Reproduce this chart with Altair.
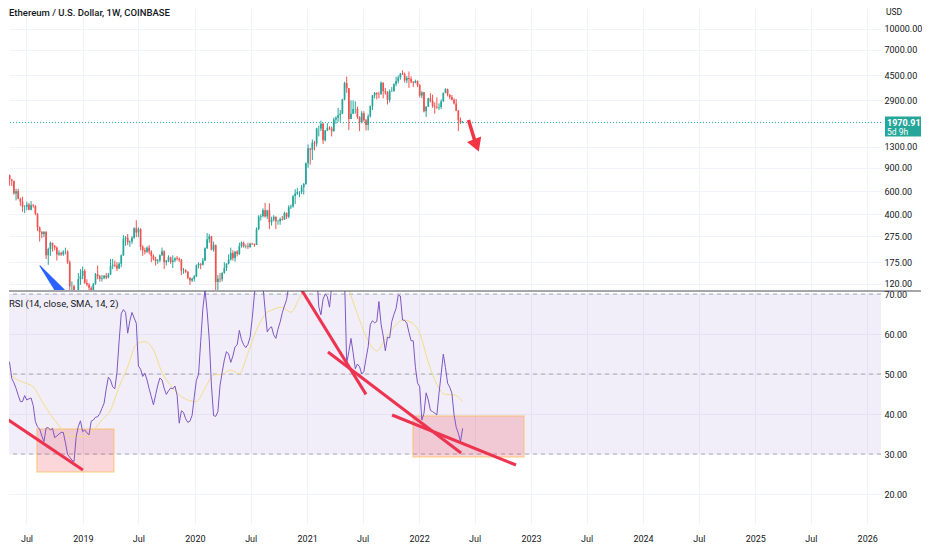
import altair as alt
import pandas as pd

TITLE = "Ethereum / U.S. Dollar, 1W, COINBASE"
RSI_TITLE = "RSI (14, close, SMA, 14, 2)"
CURRENCY = "USD"

# ---------------- weekly candles (week starting 2018-04-30) ----------------
first_week = "2018-04-30"
first_open = 670
closes = [790, 730, 715, 575, 600, 525, 500, 455, 455, 475, 435, 470, 465, 405, 320, 295, 285, 295, 197, 220,
          245, 232, 225, 200, 205, 200, 210, 210, 175, 115, 115, 88, 85, 130, 138, 150,
          122, 118, 112, 107, 120, 142, 137, 131, 133, 138, 134, 141, 164, 167, 165, 157, 170, 197, 262, 268,
          247, 250, 267, 315, 293, 310, 228, 215, 210, 225, 210, 195, 185, 178, 180, 197, 211, 175, 180, 190,
          175, 180, 187, 185, 182, 151, 152, 148, 133, 127, 131, 137,
          165, 170, 167, 180, 223, 260, 274, 217, 235, 124, 131, 130, 145, 158, 170, 183, 205, 188, 210, 202,
          231, 245, 230, 231, 228, 241, 239, 236, 310, 385, 390, 430, 387, 430, 350, 365, 385, 355, 355, 370,
          366, 410, 385, 454, 460, 550, 575, 590, 590, 640, 680, 975,
          1260, 1230, 1390, 1370, 1780, 1780, 1930, 1450, 1720, 1800, 1780, 1700, 2080, 2140, 2240, 2300, 2950, 3920, 3580, 2100,
          2300, 2500, 2500, 2170, 1980, 2320, 2050, 1890, 2200, 2630, 3160, 3300, 3230, 3220, 3930, 3400, 3330, 2920, 3400, 3400,
          3840, 4060, 4300, 4610, 4560, 4100, 4280, 4200, 4000, 3930, 4050, 3770,
          3150, 3330, 2400, 2600, 3000, 2880, 2620, 2600, 2560, 2580, 2850, 3300, 3520, 3200, 3070, 2930, 2740, 2420, 2050, 1960,
          1970.91]
highs = [835, 800, 745, 720, 625, 625, 535, 545, 470, 500, 490, 505, 480, 470, 410, 325, 300, 300, 300, 225,
         250, 245, 235, 230, 215, 210, 215, 225, 215, 180, 125, 118, 95, 145, 155, 162,
         155, 130, 122, 115, 122, 145, 165, 140, 140, 140, 145, 145, 185, 185, 180, 175, 175, 200, 280, 275,
         285, 255, 275, 320, 362, 320, 315, 235, 225, 230, 235, 215, 200, 192, 185, 200, 225, 215, 182, 197,
         192, 197, 190, 195, 190, 185, 158, 155, 150, 135, 134, 140,
         168, 175, 172, 188, 226, 290, 285, 276, 250, 238, 140, 145, 147, 175, 172, 200, 225, 215, 212, 215,
         245, 250, 250, 238, 245, 245, 245, 242, 320, 395, 402, 445, 490, 435, 485, 385, 395, 385, 365, 380,
         390, 420, 415, 470, 475, 560, 620, 635, 600, 670, 690, 985,
         1350, 1260, 1470, 1430, 1800, 1870, 2040, 1960, 1730, 1950, 1850, 1840, 2150, 2200, 2550, 2450, 2980, 4000, 4380, 3590,
         2900, 2900, 2850, 2600, 2200, 2400, 2400, 2100, 2280, 2650, 3180, 3350, 3330, 3370, 4030, 3970, 3600, 3400, 3500, 3650,
         3900, 4370, 4460, 4670, 4870, 4700, 4420, 4780, 4400, 4050, 4150, 4100,
         3850, 3400, 3350, 2620, 3030, 3280, 3200, 2800, 3050, 2750, 2950, 3320, 3580, 3560, 3220, 3180, 3000, 2960, 2460, 2150,
         2030]
lows = [665, 660, 655, 565, 510, 520, 465, 420, 410, 430, 430, 430, 450, 395, 300, 250, 265, 270, 185, 167,
        195, 210, 215, 180, 195, 195, 195, 200, 170, 100, 100, 83, 82, 84, 118, 130,
        120, 115, 107, 102, 102, 118, 130, 125, 125, 130, 130, 132, 140, 155, 160, 150, 155, 160, 195, 232,
        235, 228, 240, 262, 270, 270, 215, 195, 200, 205, 200, 175, 180, 165, 170, 175, 195, 155, 165, 175,
        170, 158, 175, 180, 175, 140, 143, 145, 130, 118, 124, 125,
        135, 157, 155, 165, 178, 220, 245, 215, 210, 90, 108, 123, 125, 143, 150, 168, 180, 180, 176, 193,
        198, 225, 225, 222, 220, 224, 236, 228, 236, 305, 360, 380, 380, 370, 310, 330, 355, 310, 335, 335,
        360, 365, 370, 375, 440, 450, 480, 560, 540, 570, 565, 670,
        900, 950, 1030, 1220, 1300, 1550, 1700, 1360, 1420, 1700, 1730, 1550, 1680, 1930, 2000, 2000, 2280, 2900, 3300, 1730,
        2100, 2300, 2300, 2100, 1700, 1950, 2000, 1720, 1720, 2150, 2450, 3000, 2950, 3000, 3200, 3000, 3200, 2700, 2800, 3350,
        3380, 3700, 3890, 4150, 4500, 3950, 3900, 3600, 3900, 3650, 3900, 3650,
        3050, 3000, 2350, 2170, 2580, 2800, 2550, 2300, 2500, 2450, 2500, 2830, 3280, 3100, 2950, 2900, 2700, 2400, 1700, 1930,
        1950]

# ---------------- RSI (weekly) and its SMA (read every 4 weeks) ----------------
rsi_values = [53.7, 52.8, 48.9, 47.8, 46.4, 44.7, 43.1, 43.1, 44.6, 43.5,
              43.8, 44.0, 42.1, 38.1, 36.8, 36.2, 34.5, 33.1, 36.5, 36.6,
              36.0, 36.4, 34.1, 34.5, 35.0, 35.4, 35.4, 32.8, 29.9, 29.2,
              28.5, 28.1, 34.3, 36.9, 38.3, 35.6, 36.0, 35.3, 34.8, 38.2,
              38.5, 39.2, 39.3, 40.1, 41.4, 42.7, 46.3, 49.2, 48.5, 46.8,
              46.3, 50.4, 58.2, 65.1, 66.1, 65.4, 60.2, 63.3, 65.4, 64.0,
              62.7, 52.0, 51.2, 49.4, 50.2, 48.5, 46.3, 44.3, 42.3, 44.8,
              47.2, 49.0, 48.5, 46.4, 44.9, 45.8, 46.5, 46.3, 47.0, 44.7,
              37.7, 40.8, 40.4, 38.8, 37.9, 38.2, 39.7, 44.3, 48.4, 49.9,
              58.1, 66.3, 71.0, 65.7, 58.5, 47.2, 39.6, 39.4, 40.6, 47.1,
              50.4, 53.5, 55.6, 55.0, 52.9, 54.5, 56.8, 57.3, 60.9, 58.6,
              57.3, 56.6, 57.4, 59.2, 63.9, 69.8, 74.0, 78.0, 76.0, 72.0,
              66.0, 60.5, 61.4, 61.8, 59.8, 58.9, 61.2, 63.0, 65.3, 67.0,
              68.6, 72.0, 75.0, 78.0, 82.0, 85.0, 88.0, 86.0, 84.0, 80.0,
              83.0, 86.0, 84.0, 80.0, 76.0, 66.8, 64.8, 68.7, 70.0, 69.3,
              66.7, 72.0, 76.0, 80.0, 83.0, 81.0, 78.0, 74.0, 52.7, 55.6,
              58.9, 55.3, 51.3, 52.5, 51.8, 50.0, 50.6, 53.9, 56.8, 62.4,
              63.3, 62.8, 63.1, 68.1, 62.5, 59.5, 55.8, 59.2, 59.0, 63.1,
              64.9, 66.4, 69.7, 69.5, 63.5, 63.4, 62.7, 60.4, 58.3, 58.3,
              51.7, 47.7, 46.8, 38.5, 40.2, 45.3, 43.5, 40.9, 40.6, 40.2,
              39.8, 45.2, 50.0, 55.0, 51.6, 47.7, 46.7, 45.2, 39.8, 36.7,
              35.2, 33.1, 36.4]
sma_step = "28D"
rsi_sma_values = [50.5, 48.7, 47.8, 46.8, 43.2, 39.9, 37.1, 34.8, 34.3, 34.3,
                  36.0, 38.5, 41.0, 46.8, 51.8, 57.4, 58.1, 56.0, 50.4, 47.2,
                  44.8, 43.5, 43.1, 46.4, 49.8, 49.9, 51.0, 50.0, 55.2, 61.0,
                  64.9, 66.2, 66.7, 65.4, 68.9, 72.0, 76.0, 78.0, 79.0, 76.0,
                  69.6, 63.5, 58.3, 55.8, 58.8, 61.7, 63.5, 62.9, 60.2, 53.0,
                  47.4, 44.9, 44.8, 43.1]

current_price = 1970.91
countdown = "5d 9h"

price_ticks = [120, 175, 275, 400, 600, 900, 1300, 2900, 4500, 7000, 10000]
rsi_ticks = [20, 30, 40, 50, 60, 70]
rsi_levels = [70, 50, 30]
band_low, band_high = 30, 70

# ---------------- drawings ----------------
trend_ids = ["a", "a", "b", "b", "c", "c", "d", "d"]
trend_dates = ["2018-04-09", "2019-01-01", "2020-12-12", "2021-07-12",
               "2021-03-10", "2022-05-18", "2021-10-05", "2022-11-13"]
trend_vals = [39.75, 26.0, 71.25, 44.9, 55.5, 30.25, 39.75, 27.25]

box_starts = ["2018-08-04", "2021-12-12"]
box_ends = ["2019-04-12", "2022-12-09"]
box_tops = [36.25, 39.5]
box_bottoms = [25.5, 29.25]

blue_dates = ["2018-08-14", "2018-10-21"]
blue_prices = [164, 104]
blue_widths = [1, 9]

arrow_dates = ["2022-06-11", "2022-07-02"]
arrow_prices = [2062, 1432]
arrow_head_date = "2022-07-07"
arrow_head_price = 1325

# ---------------- tables ----------------
weeks = pd.date_range(first_week, periods=len(closes), freq="7D")
opens = [first_open] + closes[:-1]
candles = pd.DataFrame({"date": weeks, "open": opens, "close": closes, "high": highs, "low": lows})
candles["dir"] = ["up" if c >= o else "down" for o, c in zip(opens, closes)]

rsi_df = pd.DataFrame({"date": weeks[:len(rsi_values)], "rsi": rsi_values})
sma_df = pd.DataFrame({"date": pd.date_range(first_week, periods=len(rsi_sma_values), freq=sma_step),
                       "sma": rsi_sma_values})
trend_df = pd.DataFrame({"id": trend_ids, "date": pd.to_datetime(trend_dates), "val": trend_vals})
box_df = pd.DataFrame({"start": pd.to_datetime(box_starts), "end": pd.to_datetime(box_ends),
                       "top": box_tops, "bottom": box_bottoms})
blue_df = pd.DataFrame({"date": pd.to_datetime(blue_dates), "price": blue_prices, "w": blue_widths})
arrow_df = pd.DataFrame({"date": pd.to_datetime(arrow_dates), "price": arrow_prices})
head_df = pd.DataFrame({"date": pd.to_datetime([arrow_head_date]), "price": [arrow_head_price]})
cur_df = pd.DataFrame({"p": [current_price], "label": [f"{current_price:.2f}"], "cd": [countdown]})
level_df = pd.DataFrame({"level": rsi_levels})
band_df = pd.DataFrame({"lo": [band_low], "hi": [band_high]})

# ---------------- styling ----------------
W, H_TOP, H_RSI = 872, 282, 233
TEAL, RED = "#26a69a", "#ef5350"
TEXT, GRID = "#131722", "#f0f3fa"
FONT = "Roboto"

x_scale = alt.Scale(domain=[alt.DateTime(year=2018, month=5, date=5),
                            alt.DateTime(year=2026, month=2, date=15)])
tick_values = []
for yr in range(2018, 2027):
    for mo in (1, 7):
        if (yr == 2018 and mo == 1) or (yr == 2026 and mo == 7):
            continue
        tick_values.append(alt.DateTime(year=yr, month=mo, date=1))

top_x_axis = alt.Axis(values=tick_values, labels=False, ticks=False, domain=False, grid=True, title=None)
bottom_x_axis = alt.Axis(values=tick_values, grid=True, title=None, labelPadding=10,
                         labelExpr="month(datum.value) == 0 ? timeFormat(datum.value, '%Y') : 'Jul'")

price_scale = alt.Scale(type="log", domain=[107.9, 14396], nice=False)
price_axis = alt.Axis(orient="right", values=price_ticks, format=".2f", title=None, labelPadding=3, grid=True)
rsi_scale = alt.Scale(domain=[12.5, 70.75], nice=False, zero=False)
rsi_axis = alt.Axis(orient="right", values=rsi_ticks, format=".2f", title=None, labelPadding=3, grid=True)


def tx(field="date"):
    return alt.X(f"{field}:T", scale=x_scale, axis=top_x_axis)


def bx(field="date"):
    return alt.X(f"{field}:T", scale=x_scale, axis=bottom_x_axis)


def py(field):
    return alt.Y(f"{field}:Q", scale=price_scale, axis=price_axis)


def ry(field):
    return alt.Y(f"{field}:Q", scale=rsi_scale, axis=rsi_axis)


color_enc = alt.Color("dir:N", scale=alt.Scale(domain=["up", "down"], range=[TEAL, RED]), legend=None)

# ---------------- price panel ----------------
wick = alt.Chart(candles).mark_rule(strokeWidth=1, clip=True).encode(
    x=tx(), y=py("low"), y2=alt.Y2("high"), color=color_enc)
body = alt.Chart(candles).mark_rule(strokeWidth=1.7, clip=True).encode(
    x=tx(), y=py("open"), y2=alt.Y2("close"), color=color_enc)
cur_line = alt.Chart(cur_df).mark_rule(color=TEAL, strokeDash=[1, 2], strokeWidth=1).encode(y=py("p"))
blue = alt.Chart(blue_df).mark_trail(color="#2962ff", clip=True).encode(
    x=tx(), y=py("price"), size=alt.Size("w:Q", scale=None, legend=None))
shaft = alt.Chart(arrow_df).mark_line(color="#f23645", strokeWidth=3.5, clip=True).encode(x=tx(), y=py("price"))
head = alt.Chart(head_df).mark_point(shape="triangle-down", filled=True, size=230, angle=339,
                                     color="#f23645", opacity=1).encode(x=tx(), y=py("price"))
pbox = alt.Chart(cur_df).mark_rect(color=TEAL, yOffset=-6, y2Offset=14).encode(
    x=alt.value(W + 4), x2=alt.value(W + 40), y=py("p"), y2=alt.Y2("p"))
ptext = alt.Chart(cur_df).mark_text(align="left", baseline="middle", color="white", fontSize=9,
                                    fontWeight="bold", font=FONT).encode(
    x=alt.value(W + 6), y=py("p"), text="label:N")
ctext = alt.Chart(cur_df).mark_text(align="left", baseline="middle", color="white", fontSize=8.5,
                                    font=FONT, dy=9).encode(x=alt.value(W + 6), y=py("p"), text="cd:N")
title = alt.Chart(pd.DataFrame({"t": [TITLE]})).mark_text(
    align="left", baseline="top", fontSize=9.5, fontWeight=500, color=TEXT, font=FONT).encode(
    x=alt.value(0), y=alt.value(0), text="t:N")
usd = alt.Chart(pd.DataFrame({"t": [CURRENCY]})).mark_text(
    align="left", baseline="top", fontSize=8.5, color=TEXT, font=FONT).encode(
    x=alt.value(W + 5), y=alt.value(0), text="t:N")

top = alt.layer(wick, body, cur_line, blue, shaft, head, pbox, ptext, ctext, title, usd).properties(
    width=W, height=H_TOP)

# ---------------- RSI panel ----------------
band = alt.Chart(band_df).mark_rect(color="#7e57c2", opacity=0.1).encode(
    x=alt.value(0), x2=alt.value(W), y=ry("lo"), y2=alt.Y2("hi"))
levels = alt.Chart(level_df).mark_rule(color="#868993", strokeDash=[4, 4], strokeWidth=1, opacity=0.7).encode(
    y=ry("level"))
boxes = alt.Chart(box_df).mark_rect(fill="#f23645", fillOpacity=0.2, stroke="#ffb74d", strokeOpacity=0.5,
                                    strokeWidth=1.5).encode(
    x=bx("start"), x2=alt.X2("end"), y=ry("top"), y2=alt.Y2("bottom"))
sma_line = alt.Chart(sma_df).mark_line(color="#f2dd8a", strokeWidth=1, clip=True, interpolate="monotone").encode(
    x=bx(), y=ry("sma"))
rsi_line = alt.Chart(rsi_df).mark_line(color="#7e57c2", strokeWidth=1, clip=True).encode(
    x=bx(), y=ry("rsi"))
trends = alt.Chart(trend_df).mark_line(color="#ec3451", strokeWidth=3, clip=True).encode(
    x=bx(), y=ry("val"), detail="id:N")
rsi_label = alt.Chart(pd.DataFrame({"t": [RSI_TITLE]})).mark_text(
    align="left", baseline="middle", fontSize=9.5, color=TEXT, font=FONT).encode(
    x=alt.value(0), y=alt.value(13), text="t:N")
sep = alt.Chart(band_df).mark_rule(color="#4a4d57", strokeWidth=1).encode(
    x=alt.value(0), x2=alt.value(W + 40), y=alt.value(0))

bottom = alt.layer(band, levels, boxes, sma_line, rsi_line, trends, rsi_label, sep).properties(
    width=W, height=H_RSI)

chart = alt.vconcat(top, bottom, spacing=0).properties(
    padding=0, background="white"
).configure_view(stroke=None).configure_axis(
    labelFont=FONT, labelFontSize=9, labelColor=TEXT, gridColor=GRID, gridWidth=1,
    domain=False, ticks=False)

chart.save("out.html", embed_options={"renderer": "svg", "actions": False})
